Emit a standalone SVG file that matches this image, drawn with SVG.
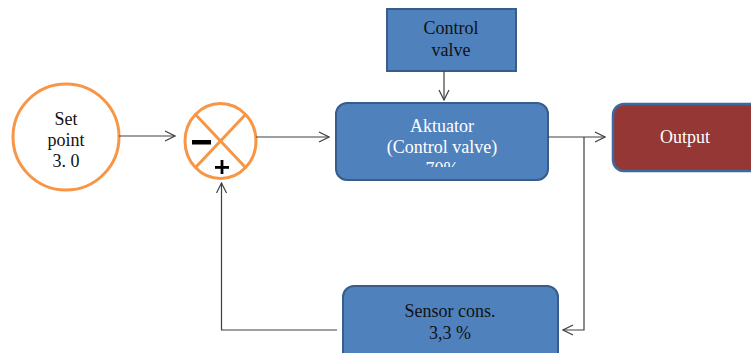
<svg xmlns="http://www.w3.org/2000/svg" width="751" height="353" viewBox="0 0 751 353">
  <defs>
    <marker id="open" viewBox="0 0 12 12" refX="11" refY="6" markerWidth="12" markerHeight="12" markerUnits="userSpaceOnUse" orient="auto">
      <path d="M1,1 L11,6 L1,11" fill="none" stroke="#404040" stroke-width="1.2"/>
    </marker>
    <clipPath id="aktClip">
      <rect x="336" y="103" width="212" height="64"/>
    </clipPath>
  </defs>
  <style>
    .t { font-family: "Liberation Serif", "Times New Roman", serif; font-size: 18px; text-anchor: middle; }
    .dark { fill: #111; }
    .light { fill: #fff; }
    .blue { fill: #4F81BD; stroke: #385D8A; stroke-width: 2; }
    .ring { fill: #fff; stroke: #F79646; stroke-width: 3; }
    .wire { fill: none; stroke: #404040; stroke-width: 1.2; }
  </style>
  <rect width="751" height="353" fill="#fff"/>

  <g id="setpoint">
    <circle class="ring" cx="66" cy="137" r="53"/>
    <text class="t dark" x="66" y="125">Set</text>
    <text class="t dark" x="66" y="146">point</text>
    <text class="t dark" x="66" y="167">3. 0</text>
  </g>

  <g id="sum">
    <ellipse class="ring" cx="220.5" cy="141" rx="35.5" ry="37.5"/>
    <line x1="195.5" y1="114.5" x2="245.5" y2="167.5" stroke="#F79646" stroke-width="3"/>
    <line x1="245.5" y1="114.5" x2="195.5" y2="167.5" stroke="#F79646" stroke-width="3"/>
    <rect x="192" y="140" width="19" height="4.5" fill="#000"/>
    <rect x="215" y="166" width="14" height="2.8" fill="#000"/>
    <rect x="220.6" y="160" width="2.8" height="14" fill="#000"/>
  </g>

  <g id="controlvalve">
    <rect class="blue" x="387" y="9" width="129" height="62"/>
    <text class="t dark" x="451" y="34">Control</text>
    <text class="t dark" x="451" y="56">valve</text>
  </g>

  <g id="aktuator">
    <rect class="blue" x="336" y="103" width="212" height="77" rx="11"/>
    <text class="t light" x="442" y="132">Aktuator</text>
    <text class="t light" x="442" y="153">(Control valve)</text>
    <text class="t light" x="442" y="175" clip-path="url(#aktClip)">70%</text>
  </g>

  <g id="output">
    <rect x="613" y="104" width="150" height="67" rx="11" fill="#953735" stroke="#3C6A9E" stroke-width="2.5"/>
    <text class="t light" x="685" y="143">Output</text>
  </g>

  <g id="sensor">
    <rect class="blue" x="343" y="286" width="215" height="80" rx="11"/>
    <text class="t dark" x="450" y="317">Sensor cons.</text>
    <text class="t dark" x="450" y="339">3,3 %</text>
  </g>

  <g id="connectors">
    <line class="wire" x1="119" y1="136" x2="175" y2="136" marker-end="url(#open)"/>
    <line class="wire" x1="256" y1="137" x2="329" y2="137" marker-end="url(#open)"/>
    <line class="wire" x1="444" y1="71" x2="444" y2="100" marker-end="url(#open)"/>
    <line class="wire" x1="548" y1="137" x2="605" y2="137" marker-end="url(#open)"/>
    <polyline class="wire" points="584,137 584,330 563,330" marker-end="url(#open)"/>
    <polyline class="wire" points="337,330 221.5,330 221.5,183" marker-end="url(#open)"/>
  </g>
</svg>
